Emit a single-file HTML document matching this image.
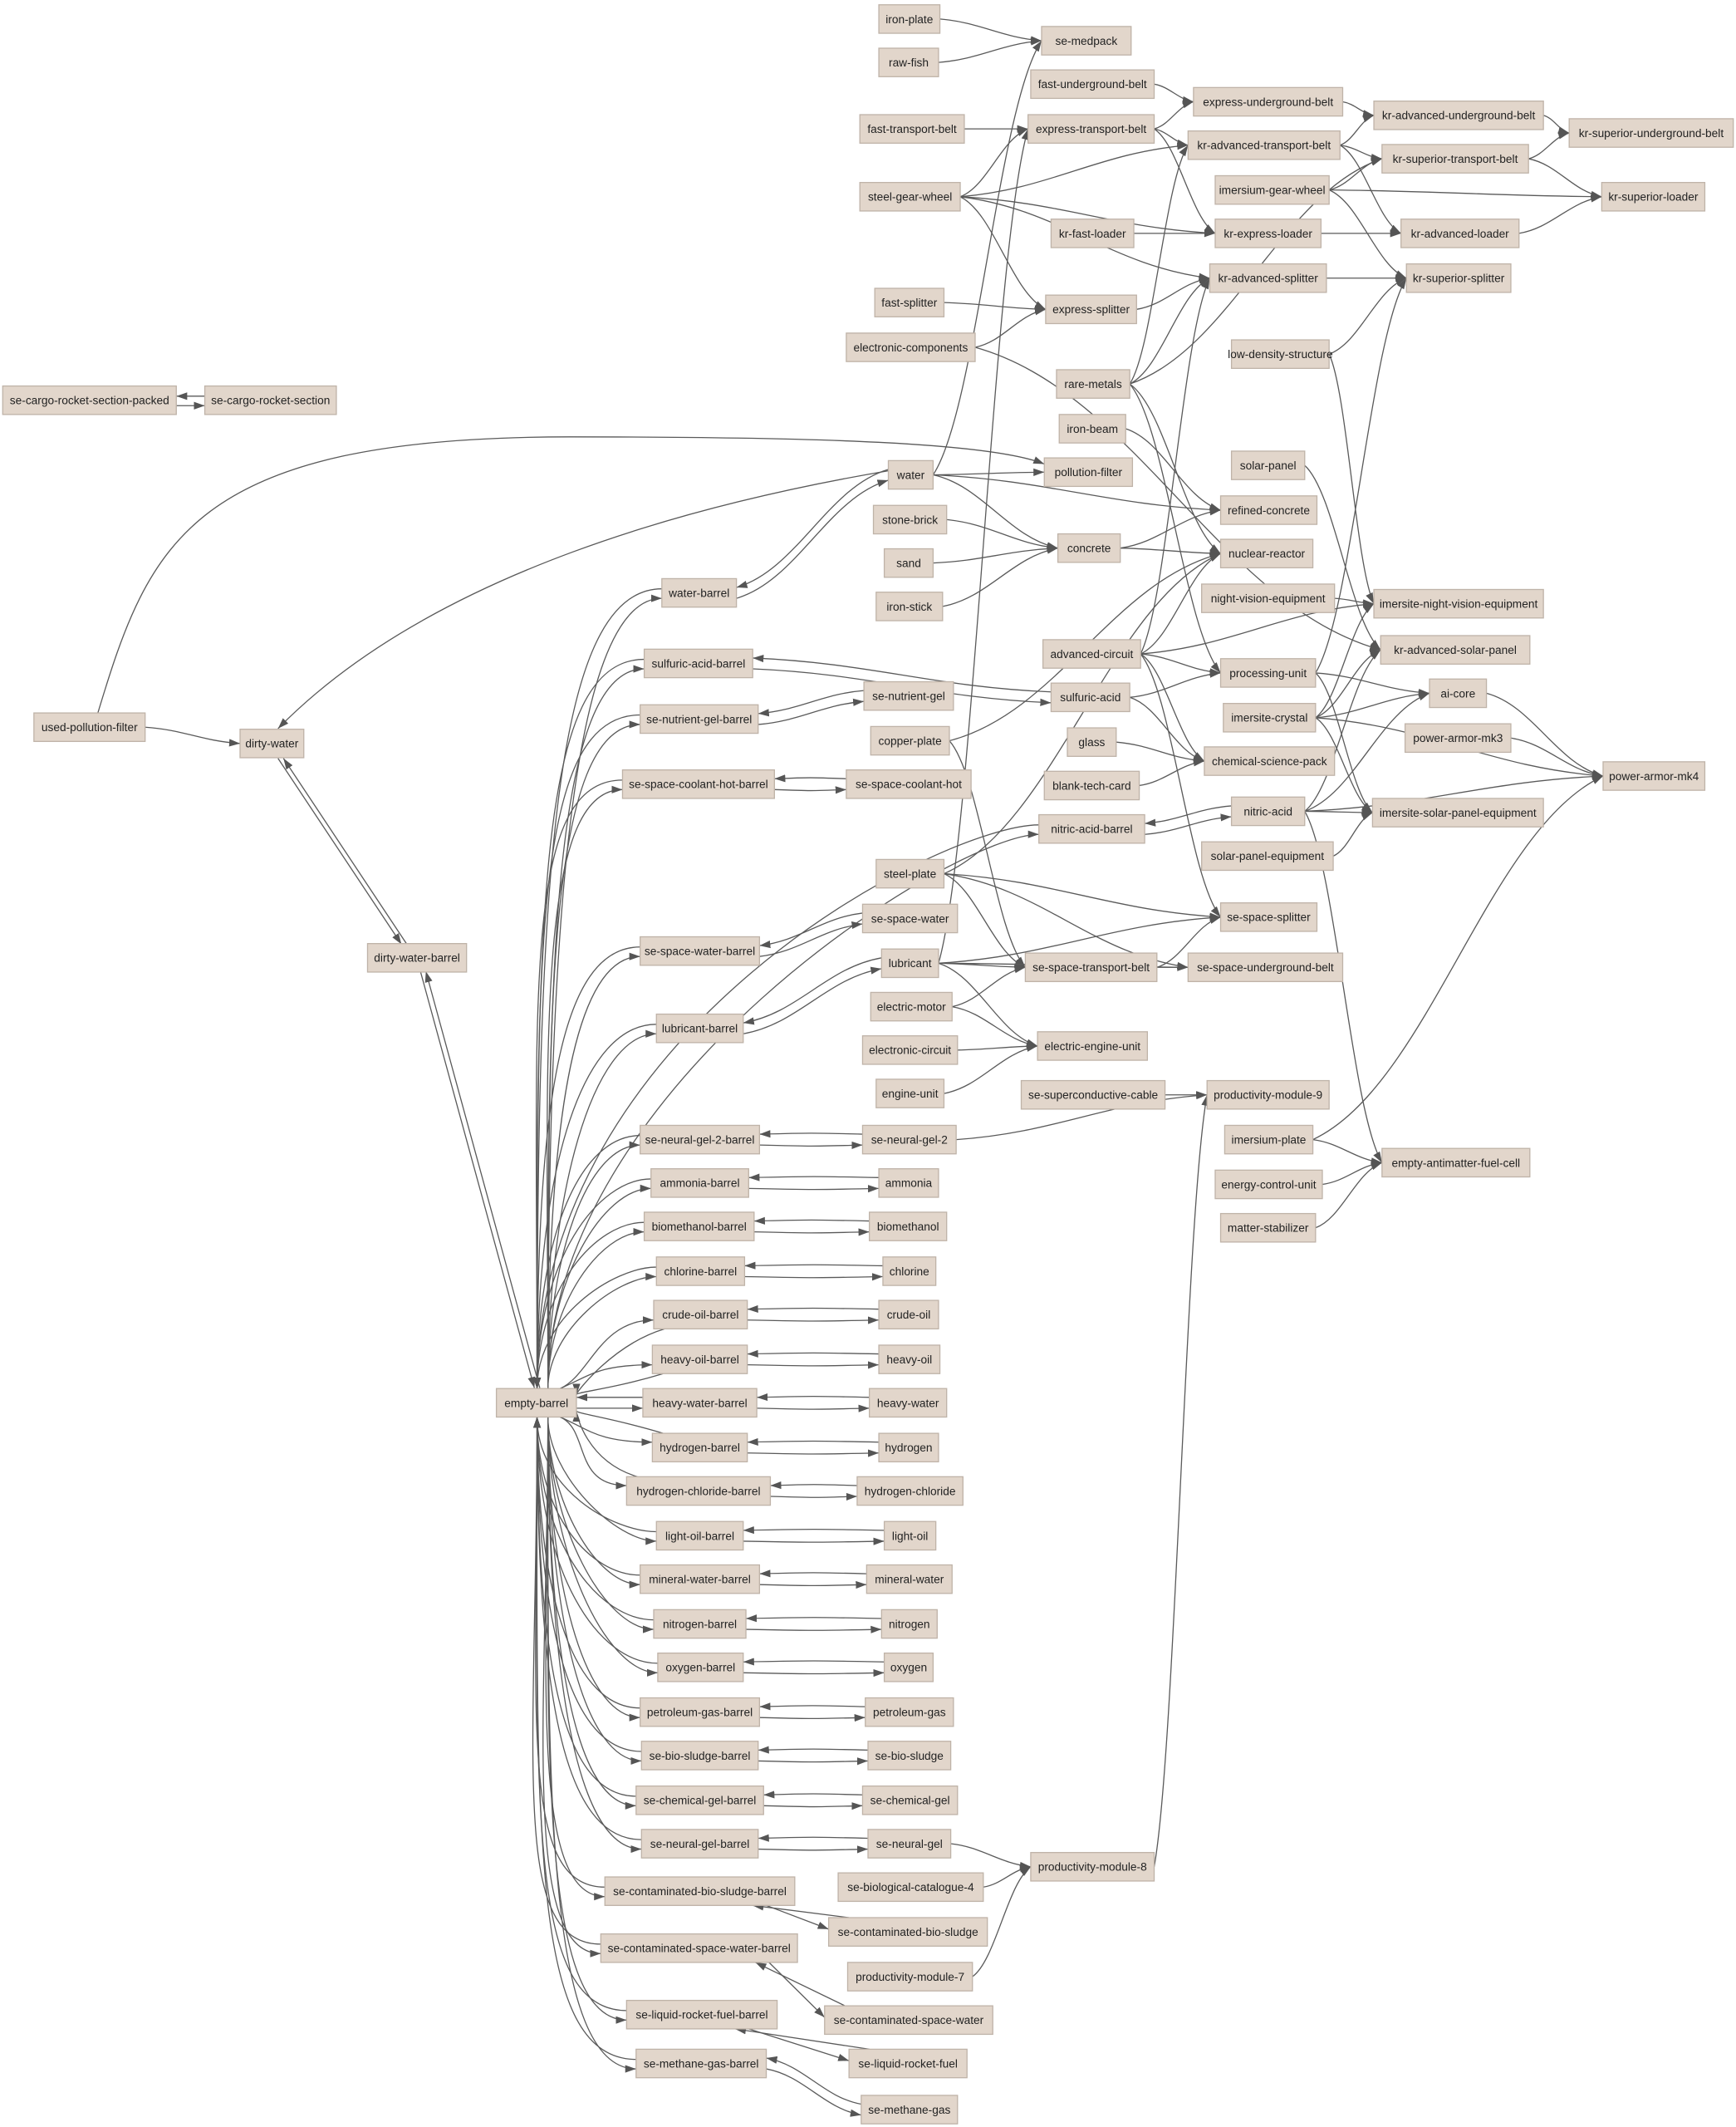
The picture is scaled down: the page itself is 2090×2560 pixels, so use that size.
<!DOCTYPE html>
<html><head><meta charset="utf-8"><style>
html,body{margin:0;padding:0;background:#fff}
svg{display:block}
text{font-family:"Liberation Sans",Arial,sans-serif;font-size:8.4px;fill:#222;text-anchor:middle}
</style></head><body>
<svg id="g" width="2090" height="2560" viewBox="0 0 1280 1567.8" xmlns="http://www.w3.org/2000/svg">
<defs><marker id="a" markerUnits="userSpaceOnUse" markerWidth="8" markerHeight="8" viewBox="0 0 10 10" refX="10" refY="5" orient="auto"><path d="M0,1.5L10,5L0,8.5z" fill="#555"/></marker></defs>
<g id="E" fill="none" stroke="#5a5a5a" stroke-width="0.8"></g>
<g id="N"></g>
</svg>
<script>
const R=`iron-plate 648 693 14
raw-fish 648 692 46
se-medpack 768 834 30
fast-underground-belt 760 851 62
express-underground-belt 880 990 75
kr-advanced-underground-belt 1013 1138 85
kr-superior-underground-belt 1157 1278 98
fast-transport-belt 634 711 95
express-transport-belt 758 851 95
kr-advanced-transport-belt 876 988 107
kr-superior-transport-belt 1019 1127 117
imersium-gear-wheel 896 980 140
kr-superior-loader 1181 1257 145
steel-gear-wheel 634 708 145
kr-fast-loader 775 836 172
kr-express-loader 896 974 172
kr-advanced-loader 1033 1120 172
fast-splitter 645 696 223
express-splitter 771 838 228
kr-advanced-splitter 892 978 205
kr-superior-splitter 1037 1114 205
electronic-components 624 719 256
low-density-structure 908 980 261
rare-metals 779 833 283
se-cargo-rocket-section-packed 2 130 295
se-cargo-rocket-section 151 248 295
iron-beam 781 830 316
pollution-filter 770 835 348
water 655 688 350
solar-panel 908 962 343
refined-concrete 900 971 376
stone-brick 644 698 383
concrete 780 826 404
sand 652 688 415
nuclear-reactor 900 968 408
water-barrel 488 543 437
iron-stick 646 695 447
night-vision-equipment 886 984 441
imersite-night-vision-equipment 1013 1138 445
sulfuric-acid-barrel 475 555 489
advanced-circuit 769 841 482
kr-advanced-solar-panel 1018 1128 479
processing-unit 900 970 496
sulfuric-acid 775 833 514
se-nutrient-gel 637 703 513
ai-core 1054 1096 511
imersite-crystal 902 970 529
used-pollution-filter 25 107 536
se-nutrient-gel-barrel 472 559 530
dirty-water 177 224 548
copper-plate 642 700 546
glass 787 823 547
chemical-science-pack 888 984 561
power-armor-mk3 1036 1114 544
blank-tech-card 770 840 579
se-space-coolant-hot-barrel 459 571 578
se-space-coolant-hot 624 716 578
power-armor-mk4 1182 1257 572
nitric-acid 908 962 598
nitric-acid-barrel 766 844 611
imersite-solar-panel-equipment 1012 1138 599
solar-panel-equipment 886 983 631
steel-plate 646 696 644
se-space-splitter 900 971 676
se-space-water 636 706 677
se-space-water-barrel 472 560 701
dirty-water-barrel 271 344 706
lubricant 650 692 710
se-space-transport-belt 756 853 713
se-space-underground-belt 876 990 713
electric-motor 642 702 742
lubricant-barrel 484 548 758
electronic-circuit 636 706 774
electric-engine-unit 765 846 771
engine-unit 646 696 806
se-superconductive-cable 753 859 807
productivity-module-9 890 980 807
se-neural-gel-2-barrel 472 560 840
se-neural-gel-2 636 705 840
imersium-plate 903 968 840
empty-antimatter-fuel-cell 1019 1128 857
ammonia-barrel 480 552 872
ammonia 648 692 872
energy-control-unit 896 975 873
biomethanol-barrel 475 556 904
biomethanol 641 698 904
matter-stabilizer 900 970 905
chlorine-barrel 484 549 937
chlorine 651 690 937
crude-oil-barrel 482 551 969
crude-oil 648 692 969
heavy-oil-barrel 481 551 1002
heavy-oil 648 693 1002
empty-barrel 366 425 1034
heavy-water-barrel 474 558 1034
heavy-water 641 698 1034
hydrogen-barrel 481 551 1067
hydrogen 648 692 1067
hydrogen-chloride-barrel 462 568 1099
hydrogen-chloride 632 710 1099
light-oil-barrel 484 548 1132
light-oil 652 690 1132
mineral-water-barrel 472 560 1164
mineral-water 639 702 1164
nitrogen-barrel 482 550 1197
nitrogen 650 691 1197
oxygen-barrel 485 548 1229
oxygen 652 688 1229
petroleum-gas-barrel 472 560 1262
petroleum-gas 638 703 1262
se-bio-sludge-barrel 473 559 1294
se-bio-sludge 640 701 1294
se-chemical-gel-barrel 469 563 1327
se-chemical-gel 636 706 1327
se-neural-gel-barrel 473 559 1359
se-neural-gel 640 701 1359
productivity-module-8 760 851 1376
se-biological-catalogue-4 618 725 1391
se-contaminated-bio-sludge-barrel 446 586 1394
se-contaminated-bio-sludge 611 728 1424
se-contaminated-space-water-barrel 443 588 1436
productivity-module-7 625 717 1457
se-contaminated-space-water 608 732 1489
se-liquid-rocket-fuel-barrel 462 573 1485
se-liquid-rocket-fuel 626 713 1521
se-methane-gas-barrel 469 565 1521
se-methane-gas 635 706 1555`;
const N={};R.split('\n').forEach(l=>{const p=l.trim().split(' ');N[p[0]]={l:+p[1],r:+p[2],y:+p[3]};});
const E=`iron-plate>se-medpack
raw-fish>se-medpack
water>se-medpack
fast-underground-belt>express-underground-belt
express-transport-belt>express-underground-belt
express-underground-belt>kr-advanced-underground-belt
kr-advanced-transport-belt>kr-advanced-underground-belt
kr-advanced-underground-belt>kr-superior-underground-belt
kr-superior-transport-belt>kr-superior-underground-belt
fast-transport-belt>express-transport-belt
steel-gear-wheel>express-transport-belt
lubricant>express-transport-belt
express-transport-belt>kr-advanced-transport-belt
steel-gear-wheel>kr-advanced-transport-belt
rare-metals>kr-advanced-transport-belt
kr-advanced-transport-belt>kr-superior-transport-belt
imersium-gear-wheel>kr-superior-transport-belt
rare-metals>kr-superior-transport-belt
kr-superior-transport-belt>kr-superior-loader
imersium-gear-wheel>kr-superior-loader
kr-advanced-loader>kr-superior-loader
express-transport-belt>kr-express-loader
steel-gear-wheel>kr-express-loader
kr-fast-loader>kr-express-loader
kr-express-loader>kr-advanced-loader
kr-advanced-transport-belt>kr-advanced-loader
imersium-gear-wheel>kr-superior-splitter
low-density-structure>kr-superior-splitter
kr-advanced-splitter>kr-superior-splitter
steel-gear-wheel>express-splitter
steel-gear-wheel>kr-advanced-splitter
fast-splitter>express-splitter
electronic-components>express-splitter
express-splitter>kr-advanced-splitter
rare-metals>kr-advanced-splitter
advanced-circuit>kr-advanced-splitter
electronic-components>kr-advanced-solar-panel
low-density-structure>imersite-night-vision-equipment
rare-metals>nuclear-reactor
rare-metals>processing-unit
iron-beam>refined-concrete
water>pollution-filter
water>refined-concrete
concrete>refined-concrete
stone-brick>concrete
sand>concrete
iron-stick>concrete
water>concrete
concrete>nuclear-reactor
steel-plate>nuclear-reactor
copper-plate>nuclear-reactor
advanced-circuit>nuclear-reactor
solar-panel>kr-advanced-solar-panel
night-vision-equipment>imersite-night-vision-equipment
advanced-circuit>imersite-night-vision-equipment
imersite-crystal>imersite-night-vision-equipment
advanced-circuit>processing-unit
sulfuric-acid>processing-unit
processing-unit>ai-core
processing-unit>imersite-solar-panel-equipment
processing-unit>kr-superior-splitter
imersite-crystal>ai-core
imersite-crystal>kr-advanced-solar-panel
imersite-crystal>power-armor-mk4
imersite-crystal>imersite-solar-panel-equipment
nitric-acid>ai-core
nitric-acid>kr-advanced-solar-panel
nitric-acid>imersite-solar-panel-equipment
nitric-acid>power-armor-mk4
nitric-acid>empty-antimatter-fuel-cell
ai-core>power-armor-mk4
power-armor-mk3>power-armor-mk4
imersium-plate>power-armor-mk4
solar-panel-equipment>imersite-solar-panel-equipment
sulfuric-acid>chemical-science-pack
glass>chemical-science-pack
blank-tech-card>chemical-science-pack
advanced-circuit>chemical-science-pack
advanced-circuit>se-space-splitter
copper-plate>se-space-transport-belt
steel-plate>se-space-splitter
steel-plate>se-space-transport-belt
steel-plate>se-space-underground-belt
lubricant>se-space-transport-belt
lubricant>se-space-splitter
lubricant>se-space-underground-belt
lubricant>electric-engine-unit
se-space-transport-belt>se-space-underground-belt
se-space-transport-belt>se-space-splitter
electric-motor>se-space-transport-belt
electric-motor>electric-engine-unit
electronic-circuit>electric-engine-unit
engine-unit>electric-engine-unit
se-superconductive-cable>productivity-module-9
se-neural-gel-2>productivity-module-9
productivity-module-8>productivity-module-9
imersium-plate>empty-antimatter-fuel-cell
energy-control-unit>empty-antimatter-fuel-cell
matter-stabilizer>empty-antimatter-fuel-cell
se-neural-gel>productivity-module-8
se-biological-catalogue-4>productivity-module-8
productivity-module-7>productivity-module-8
used-pollution-filter>dirty-water`.split('\n');
let s='';
function P(d){s+=`<path d="${d}" marker-end="url(#a)"/>`;}
function edge(a,b,dy1=0,dy2=0){const A=N[a],B=N[b];
 let x1=A.r,y1=A.y+dy1,x2=B.l,y2=B.y+dy2;
 if(x2<x1+5){x1=A.l;x2=B.r;}
 const dx=x2-x1,dy=y2-y1;
 P(`M${x1},${y1}C${x1+dx*0.4},${y1+dy*0.15} ${x1+dx*0.6},${y1+dy*0.85} ${x2},${y2}`);}
E.forEach(e=>{const [a,b]=e.split('>');edge(a,b);});
const fl=['water','sulfuric-acid','se-nutrient-gel','se-space-coolant-hot','nitric-acid','se-space-water','lubricant','se-neural-gel-2','ammonia','biomethanol','chlorine','crude-oil','heavy-oil','heavy-water','hydrogen','hydrogen-chloride','light-oil','mineral-water','nitrogen','oxygen','petroleum-gas','se-bio-sludge','se-chemical-gel','se-neural-gel','se-contaminated-bio-sludge','se-contaminated-space-water','se-liquid-rocket-fuel','se-methane-gas'];
const EB=N['empty-barrel'];
fl.forEach(f=>{const b=f+'-barrel',F=N[f],B=N[b];
 if(Math.abs(F.y-B.y)<3){P(`M${F.l},${F.y-4}C${(F.l+B.r)/2},${F.y-5} ${(F.l+B.r)/2},${B.y-5} ${B.r},${B.y-4}`);P(`M${B.r},${B.y+4}C${(F.l+B.r)/2},${B.y+5} ${(F.l+B.r)/2},${F.y+5} ${F.l},${F.y+4}`);}
 else if(F.y-B.y>20 && F.l-B.r<70){const bx=B.r-25,by=B.y+10.5;
  P(`M${F.l+15},${F.y-10.5}L${bx-6},${by}`);P(`M${bx+4},${by}L${F.l},${F.y-2}`);}
 else{edge(f,b,-4,-4);edge(b,f,4,4);}
 const d=B.y-EB.y;
 if(Math.abs(d)<5){P(`M${B.l},${B.y-4}L${EB.r},${EB.y-4}`);P(`M${EB.r},${EB.y+4}L${B.l},${B.y+4}`);return;}
 const top=d<0,ey=top?EB.y-10.5:EB.y+10.5,k=Math.min(Math.abs(d)/500,1);
 const ex1=396, ex2=404;
 if(Math.abs(d)<80){
  P(`M${B.l+8},${B.y+(top?10.5:-10.5)}C${B.l-30},${B.y+(top?22:-22)} ${EB.r},${EB.y+(top?-8:8)} ${EB.r},${EB.y+(top?-6:6)}`);
  P(`M${EB.r-12},${ey}C${EB.r+10},${EB.y+(top?-20:20)} ${B.l-40},${B.y+(top?4:-4)} ${B.l},${B.y+(top?4:-4)}`);return;}
 P(`M${B.l},${B.y-3}C${B.l-60*k-20},${B.y-3} ${ex1},${B.y+(EB.y-B.y)*0.35} ${ex1},${ey}`);
 P(`M${ex2},${ey}C${ex2},${B.y+(EB.y-B.y)*0.45} ${B.l-50*k-20},${B.y+4} ${B.l},${B.y+4}`);
});
s+=`<path d="M310,716L394,1023" marker-end="url(#a)"/><path d="M398,1023L314,716" marker-end="url(#a)"/>`;
s+=`<path d="M205,559L296,696" marker-end="url(#a)"/><path d="M300,696L209,559" marker-end="url(#a)"/>`;
s+=`<path d="M655,347C520,370 320,420 205,537" marker-end="url(#a)"/>`;
s+=`<path d="M72,526C110,400 140,322 420,322C600,322 730,326 770,342" marker-end="url(#a)"/>`;
s+=`<path d="M151,292L130,292" marker-end="url(#a)"/><path d="M130,299L151,299" marker-end="url(#a)"/>`;
document.getElementById('E').innerHTML=s;
let n='';
for(const k in N){const o=N[k];n+=`<rect x="${o.l}" y="${o.y-10.5}" width="${o.r-o.l}" height="21" fill="#e2d6cb" stroke="#bfb3a8" stroke-width="0.8"/><text x="${(o.l+o.r)/2}" y="${o.y+3}">${k}</text>`;}
document.getElementById('N').innerHTML=n;
</script>
</body></html>
